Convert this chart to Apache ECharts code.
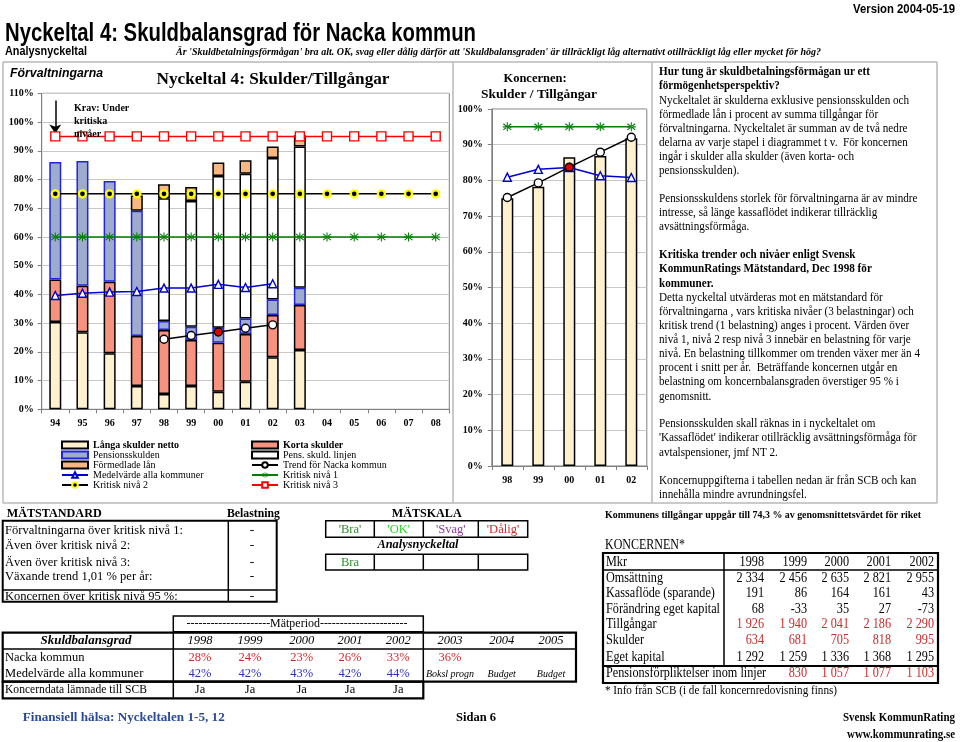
<!DOCTYPE html>
<html><head><meta charset="utf-8">
<script src="https://cdn.jsdelivr.net/npm/echarts@6/dist/echarts.min.js"></script>
<style>html,body{margin:0;padding:0;background:#fff}#c{width:960px;height:742px}</style>
</head><body><div id="c"></div>
<script>
// ---------- DATA ----------
const years = ['94','95','96','97','98','99','00','01','02','03','04','05','06','07','08'];
const langa      = [30.4,26.8,19.5,8.1,5.3,8.1,6.1,9.6,18.1,20.6,null,null,null,null,null];
const korta      = [14.8,16.2,24.9,17.4,22.3,16.0,17.1,16.6,14.7,15.7,null,null,null,null,null];
const pension    = [40.9,43.4,35.1,43.6,3.1,4.6,5.2,5.4,5.4,6.0,null,null,null,null,null];
const pensLinjen = [null,null,null,null,42.8,43.8,52.8,50.4,49.3,49.2,null,null,null,null,null];
const formedlade = [null,null,null,5.3,4.8,4.9,4.7,4.7,4.0,3.9,null,null,null,null,null];
const medel      = [39.6,40.4,40.8,41.0,42.2,42.2,43.5,42.4,43.7,null,null,null,null,null,null];
const trend      = [null,null,null,null,24.4,25.7,26.9,28.2,29.4,null,null,null,null,null,null];
const niva1      = [60,60,60,60,60,60,60,60,60,60,60,60,60,60,60];
const niva2      = [75,75,75,75,75,75,75,75,75,75,75,75,75,75,75];
const niva3      = [95,95,95,95,95,95,95,95,95,95,95,95,95,95,95];
const highlightYear = '00';

const koncYears  = ['98','99','00','01','02'];
const koncBars   = [75.0,78.2,86.5,86.8,91.8];
const koncTrend  = [75.2,79.3,83.7,87.9,92.1];
const koncMedel  = [80.9,83.1,83.6,81.3,80.8];
const koncNiva1  = [95,95,95,95,95];

const yTicksMain = 110, yTicksKonc = 100;

const matRows = ['Förvaltningarna över kritisk nivå 1:','Även över kritisk nivå 2:','Även över kritisk nivå 3:','Växande trend 1,01 % per år:','Koncernen över kritisk nivå 95 %:'];
const matBel  = ['-','-','-','-','-'];
const skalaLabels = ["'Bra'","'OK'","'Svag'","'Dålig'"];
const skalaResult = ['Bra','','',''];

const sbYears   = ['1998','1999','2000','2001','2002','2003','2004','2005'];
const sbNacka   = ['28%','24%','23%','26%','33%','36%'];
const sbMedel   = ['42%','42%','43%','42%','44%'];
const sbMedelNotes = ['Boksl progn','Budget','Budget'];
const sbKoncData = ['Ja','Ja','Ja','Ja','Ja'];

const kYears = ['1998','1999','2000','2001','2002'];
const kRows = [
  ['Omsättning',            ['2 334','2 456','2 635','2 821','2 955'], false],
  ['Kassaflöde (sparande)', ['191','86','164','161','43'], false],
  ['Förändring eget kapital',['68','-33','35','27','-73'], false],
  ['Tillgångar',            ['1 926','1 940','2 041','2 186','2 290'], true],
  ['Skulder',               ['634','681','705','818','995'], true],
  ['Eget kapital',          ['1 292','1 259','1 336','1 368','1 295'], false]
];
const kPens = ['', '830','1 057','1 077','1 103'];

// ---------- HELPERS ----------
const SERIF = '"Liberation Serif", "Times New Roman", serif';
const SANS = '"Liberation Sans", Arial, sans-serif';
const mctx = document.createElement('canvas').getContext('2d');
function fit(text, font, w){ mctx.font = font; const m = mctx.measureText(text).width; let s = w / m; return Math.max(0.5, Math.min(1.4, s)); }
const G = [];
function T(x,y,text,font,o){ o=o||{}; const al=o.align||'left';
  const el={type:'text', x:x, y:y, z:50, silent:true,
    style:{text:text, font:font, fill:o.fill||'#000', textAlign:al, textVerticalAlign:'middle', align:al, verticalAlign:'middle'}};
  if(o.w){ el.scaleX = fit(text,font,o.w); } else if(o.s){ el.scaleX = o.s; }
  G.push(el); }
function L(x1,y1,x2,y2,lw,c){ G.push({type:'line', silent:true, z:40, shape:{x1:x1,y1:y1,x2:x2,y2:y2}, style:{stroke:c||'#000', lineWidth:lw||1}}); }
function R(x,y,w,h,lw,c){ G.push({type:'rect', silent:true, z:40, shape:{x:x,y:y,width:w,height:h}, style:{fill:'none', stroke:c||'#000', lineWidth:lw||1}}); }

// ---------- HEADER ----------
T(955,9,'Version 2004-05-19','bold 13px '+SANS,{align:'right', w:102});
T(5,34,'Nyckeltal 4: Skuldbalansgrad för Nacka kommun','bold 26px '+SANS,{w:471});
T(5,52,'Analysnyckeltal','bold 12px '+SANS,{w:82});
T(176,52,"Är 'Skuldbetalningsförmågan' bra alt. OK, svag eller dålig därför att 'Skuldbalansgraden' är tillräckligt låg alternativt otillräckligt låg eller mycket för hög?",'italic bold 11px '+SERIF,{w:645});

// frame
const FC = '#b8b8b8';
L(3,62,937,62,1.5,FC); L(3,503,937,503,1.5,FC);
L(3,62,3,503,1.5,FC); L(453,62,453,503,1.5,FC); L(652,62,652,503,1.5,FC); L(937,62,937,503,1.5,FC);

// chart titles
T(10,74,'Förvaltningarna','italic bold 12px '+SANS,{w:93});
T(273,80,'Nyckeltal 4: Skulder/Tillgångar','bold 17px '+SERIF,{align:'center', w:233});
T(74,108,'Krav: Under','bold 10px '+SERIF);
T(74,121,'kritiska','bold 10px '+SERIF);
T(74,134,'nivåer','bold 10px '+SERIF);
T(535,79,'Koncernen:','bold 12.5px '+SERIF,{align:'center'});
T(539,95,'Skulder / Tillgångar','bold 12.5px '+SERIF,{align:'center', w:116});

// right paragraph
const para = [
 [72,'Hur tung är skuldbetalningsförmågan ur ett',1],
 [86,'förmögenhetsperspektiv?',1],
 [100.7,'Nyckeltalet är skulderna exklusive pensionsskulden och',0],
 [114.5,'förmedlade lån i procent av summa tillgångar för',0],
 [128.5,'förvaltningarna. Nyckeltalet är summan av de två nedre',0],
 [142.7,'delarna av varje stapel i diagrammet t v.  För koncernen',0],
 [156.7,'ingår i skulder alla skulder (även korta- och',0],
 [171,'pensionsskulden).',0],
 [198.5,'Pensionsskuldens storlek för förvaltningarna är av mindre',0],
 [213,'intresse, så länge kassaflödet indikerar tillräcklig',0],
 [227,'avsättningsförmåga.',0],
 [255,'Kritiska trender och nivåer enligt Svensk',1],
 [269,'KommunRatings Mätstandard, Dec 1998 för',1],
 [283.5,'kommuner.',1],
 [297.5,'Detta nyckeltal utvärderas mot en mätstandard för',0],
 [311.7,'förvaltningarna , vars kritiska nivåer (3 belastningar) och',0],
 [325.7,'kritisk trend (1 belastning) anges i procent. Värden över',0],
 [340,'nivå 1, nivå 2 resp nivå 3 innebär en belastning för varje',0],
 [354,'nivå. En belastning tillkommer om trenden växer mer än 4',0],
 [368,'procent i snitt per år.  Beträffande koncernen utgår en',0],
 [382,'belastning om koncernbalansgraden överstiger 95 % i',0],
 [396.7,'genomsnitt.',0],
 [424,'Pensionsskulden skall räknas in i nyckeltalet om',0],
 [438,"'Kassaflödet' indikerar otillräcklig avsättningsförmåga för",0],
 [452.7,'avtalspensioner, jmf NT 2.',0],
 [480.7,'Koncernuppgifterna i tabellen nedan är från SCB och kan',0],
 [495,'innehålla mindre avrundningsfel.',0]
];
const pf = fit('nivå. En belastning tillkommer om trenden växer mer än 4','12px '+SERIF,261);
const pfb = fit('Hur tung är skuldbetalningsförmågan ur ett','bold 12px '+SERIF,211);
para.forEach(p => T(659,p[0],p[1],(p[2]?'bold ':'')+'12px '+SERIF,{s:p[2]?pfb:pf}));

// ---------- MÄTSTANDARD ----------
const mfont = '13.5px '+SERIF;
const mf = fit('Förvaltningarna över kritisk nivå 1:',mfont,178);
T(6.7,514,'MÄTSTANDARD','bold 13.5px '+SERIF,{w:95});
T(227,514,'Belastning','bold 13.5px '+SERIF,{w:53});
R(2.7,520.7,274,81,2); L(228.3,520.7,228.3,601.7,1.5); L(2.7,590,276.7,590,1.5);
const mY = [530,545.7,562.3,576.7,596];
matRows.forEach((r,i)=>{ T(5,mY[i],r,mfont,{s:mf}); T(252,mY[i],matBel[i],mfont,{align:'center'}); });

// MÄTSKALA
T(426.7,514,'MÄTSKALA','bold 13.5px '+SERIF,{align:'center', w:70});
const skX = [325.7,374.3,423.3,478.3,527.7];
const skCol = ['#2f8f2f','#1fd81f','#8e3a9e','#d42a2a'];
R(skX[0],520.7,skX[4]-skX[0],16.6,1.5); R(skX[0],554.3,skX[4]-skX[0],15.7,1.5);
for(let i=1;i<4;i++){ L(skX[i],520.7,skX[i],537.3,1.5); L(skX[i],554.3,skX[i],570,1.5); }
skalaLabels.forEach((s,i)=>T((skX[i]+skX[i+1])/2,529,s,mfont,{align:'center', fill:skCol[i], s:mf}));
T(418,545,'Analysnyckeltal','italic bold 13.5px '+SERIF,{align:'center', w:81});
skalaResult.forEach((s,i)=>{ if(s) T((skX[i]+skX[i+1])/2,562.5,s,mfont,{align:'center', fill:skCol[i], s:mf}); });

// ---------- SKULDBALANSGRAD TABLE ----------
R(173.3,616,250,15.7,1.5);
T(297,623.8,'---------------------Mätperiod----------------------',mfont,{align:'center', w:221});
R(2.7,632.7,573.3,49,2.2);
L(2.7,649,576,649,1.5); L(173.3,632.7,173.3,698.3,1.5); L(423.3,632.7,423.3,681.7,1.5);
R(2.7,681.7,420.6,16.6,2.2);
const sbX = [200,250,301.7,350,398.3,450,501.7,551];
T(86,640.7,'Skuldbalansgrad','italic bold 13.5px '+SERIF,{align:'center', w:91});
sbYears.forEach((y,i)=>T(sbX[i],640.7,y,'italic '+mfont,{align:'center', s:mf}));
T(5,657.7,'Nacka kommun',mfont,{s:mf});
sbNacka.forEach((v,i)=>T(sbX[i],657.7,v,mfont,{align:'center', fill:'#cc2a2a', s:mf}));
T(5,673.3,'Medelvärde alla kommuner',mfont,{s:mf});
sbMedel.forEach((v,i)=>T(sbX[i],673.3,v,mfont,{align:'center', fill:'#2f2fc0', s:mf}));
sbMedelNotes.forEach((v,i)=>T(sbX[5+i],674,v,'italic 10px '+SERIF,{align:'center'}));
T(5,689.5,'Koncerndata lämnade till SCB','12.5px '+SERIF,{s:mf});
sbKoncData.forEach((v,i)=>T(sbX[i],689.5,v,'12.5px '+SERIF,{align:'center'}));

// ---------- KONCERNEN TABLE ----------
const kfont = '14px '+SERIF;
const kf = fit('Förändring eget kapital',kfont,114);
T(605,515,'Kommunens tillgångar uppgår till 74,3 % av genomsnittetsvärdet för riket','bold 10.5px '+SERIF,{w:316});
T(605,545,'KONCERNEN*',kfont,{w:80});
R(603,553,335,130,2.2); L(603,570,938,570,1.5); L(724,553,724,666,1.5); L(603,666,938,666,2.2);
const kX = [764,807,849,891,934];
const kY = [578,593.5,609,624.5,640.5,657];
T(606,562,'Mkr',kfont,{s:kf});
kYears.forEach((y,i)=>T(kX[i],562,y,kfont,{align:'right', s:kf}));
kRows.forEach((r,j)=>{ T(606,kY[j],r[0],kfont,{s:kf}); r[1].forEach((v,i)=>T(kX[i],kY[j],v,kfont,{align:'right', s:kf, fill:r[2]?'#cc2a2a':'#000'})); });
T(606,673.5,'Pensionsförpliktelser inom linjer',kfont,{s:kf});
kPens.forEach((v,i)=>{ if(v) T(kX[i],673.5,v,kfont,{align:'right', s:kf, fill:'#cc2a2a'}); });
T(605,691,'* Info från SCB (i de fall koncernredovisning finns)','12.5px '+SERIF,{w:232});

// ---------- FOOTER ----------
T(22.7,718,'Finansiell hälsa: Nyckeltalen 1-5, 12','bold 13px '+SERIF,{fill:'#2a4a9a', w:202});
T(456,718,'Sidan 6','bold 13px '+SERIF,{w:40});
T(955,718,'Svensk KommunRating','bold 13px '+SERIF,{align:'right', w:112});
T(955,735,'www.kommunrating.se','bold 13px '+SERIF,{align:'right', w:108});

// ---------- CHART ----------
const ASTERISK = 'path://M4.4,0L5.6,0L5.6,10L4.4,10Z M0,4.4L10,4.4L10,5.6L0,5.6Z M0.2,2.0L1.0,1.1L9.8,8.0L9.0,8.9Z M9.8,2.0L9.0,1.1L0.2,8.0L1.0,8.9Z';
const axisFont = {fontFamily:SERIF, fontWeight:'bold', fontSize:10, color:'#000'};
const ax = {lineStyle:{color:'#808080', width:1}};
function hl(arr, cats){ return arr.map((v,i)=> (cats[i]===highlightYear && v!=null) ? {value:v, itemStyle:{color:'#e00000'}} : v); }
const barBase = (name, data, color, border, xi) => ({name, type:'bar', stack:'s'+xi, xAxisIndex:xi, yAxisIndex:xi, barWidth:12, data,
  itemStyle:{color, borderColor:border||'#000', borderWidth:1.5}});
const lineS = (name, data, xi, color, symbol, size, fill, border, extra) => Object.assign({name, type:'line', xAxisIndex:xi, yAxisIndex:xi, data,
  symbol, symbolSize:size, showAllSymbol:true, connectNulls:false, z:5,
  lineStyle:{color, width:1.5}, itemStyle:{color:fill, borderColor:border, borderWidth:border?1.4:0}}, extra||{});

const series = [
  barBase('Långa skulder netto', langa, '#FFF0CE', '#000', 0),
  barBase('Korta skulder', korta, '#F7927E', '#000', 0),
  barBase('Pensionsskulden', pension, '#9DACCD', '#2323D9', 0),
  barBase('Pens. skuld. linjen', pensLinjen, '#FFFFFF', '#000', 0),
  barBase('Förmedlade lån', formedlade, '#F6B880', '#000', 0),
  lineS('Medelvärde alla kommuner', medel, 0, '#0000CC', 'triangle', 8, '#fff', '#0000CC'),
  lineS('Trend för Nacka kommun', hl(trend, years), 0, '#000', 'circle', 8, '#fff', '#000'),
  lineS('Kritisk nivå 1', niva1, 0, '#008000', ASTERISK, 9, '#008000', null),
  lineS('Kritisk nivå 2', niva2, 0, '#000', 'circle', 7, '#000', null, {itemStyle:{color:'#000', borderColor:'#ffff00', borderWidth:2.3}}),
  lineS('Kritisk nivå 3', niva3, 0, '#FF0000', 'rect', 9, '#fff', '#FF0000', {
    markLine:{silent:true, symbol:['none','arrow'], symbolSize:9, label:{show:false}, lineStyle:{color:'#000', width:1.5, type:'solid'},
      data:[[{coord:[years[0],107.5]},{coord:[years[0],96]}]]}}),
  barBase('Koncernen', koncBars, '#FFF0CE', '#000', 1),
  lineS('Medelvärde alla kommuner', koncMedel, 1, '#0000CC', 'triangle', 8, '#fff', '#0000CC'),
  lineS('Trend för Nacka kommun', hl(koncTrend, koncYears), 1, '#000', 'circle', 8, '#fff', '#000'),
  lineS('Kritisk nivå 1', koncNiva1, 1, '#008000', ASTERISK, 9, '#008000', null)
];

const legendText = {fontFamily:SERIF, fontSize:10, lineHeight:10, color:'#000', rich:{b:{fontFamily:SERIF, fontSize:10, lineHeight:10, fontWeight:'bold', color:'#000'}}};
const boldFirst = ['Långa skulder netto','Korta skulder'];
const barNames = ['Långa skulder netto','Pensionsskulden','Förmedlade lån','Korta skulder','Pens. skuld. linjen'];
const legItem = n => barNames.includes(n) ? {name:n, icon:'rect'} : {name:n};
const legCommon = {orient:'vertical', itemWidth:26, itemHeight:7, itemGap:0, padding:0, selectedMode:false, textStyle:legendText,
  formatter: n => boldFirst.includes(n) ? '{b|'+n+'}' : n};

const option = {
  animation:false,
  backgroundColor:'#fff',
  graphic: G,
  legend:[
    Object.assign({left:61, top:440, data:['Långa skulder netto','Pensionsskulden','Förmedlade lån','Medelvärde alla kommuner','Kritisk nivå 2'].map(legItem)}, legCommon),
    Object.assign({left:251, top:440, data:['Korta skulder','Pens. skuld. linjen','Trend för Nacka kommun','Kritisk nivå 1','Kritisk nivå 3'].map(legItem)}, legCommon)
  ],
  grid:[
    {left:41.7, top:93.3, width:407.6, height:316, show:true, borderColor:'#808080', borderWidth:1, backgroundColor:'transparent', outerBoundsMode:'none'},
    {left:491.8, top:109, width:155, height:357, show:true, borderColor:'#808080', borderWidth:1, backgroundColor:'transparent', outerBoundsMode:'none'}
  ],
  xAxis:[
    {gridIndex:0, type:'category', data:years, axisLine:ax, axisTick:{show:true, length:4, lineStyle:{color:'#808080'}}, axisLabel:Object.assign({margin:9, interval:0}, axisFont)},
    {gridIndex:1, type:'category', data:koncYears, axisLine:ax, axisTick:{show:true, length:4, lineStyle:{color:'#808080'}}, axisLabel:Object.assign({margin:9, interval:0}, axisFont)}
  ],
  yAxis:[
    {gridIndex:0, type:'value', min:0, max:yTicksMain, interval:10, axisLine:Object.assign({show:true}, ax), axisTick:{show:true, length:4, lineStyle:{color:'#808080'}},
      splitLine:{lineStyle:{color:'#c8c8c8', width:1}}, axisLabel:Object.assign({formatter:'{value}%', margin:8}, axisFont)},
    {gridIndex:1, type:'value', min:0, max:yTicksKonc, interval:10, axisLine:Object.assign({show:true}, ax), axisTick:{show:true, length:4, lineStyle:{color:'#808080'}},
      splitLine:{lineStyle:{color:'#c8c8c8', width:1}}, axisLabel:Object.assign({formatter:'{value}%', margin:9}, axisFont)}
  ],
  series: series
};
const chart = echarts.init(document.getElementById('c'), null, {renderer:'canvas'});
chart.setOption(option);
</script>
</body></html>
